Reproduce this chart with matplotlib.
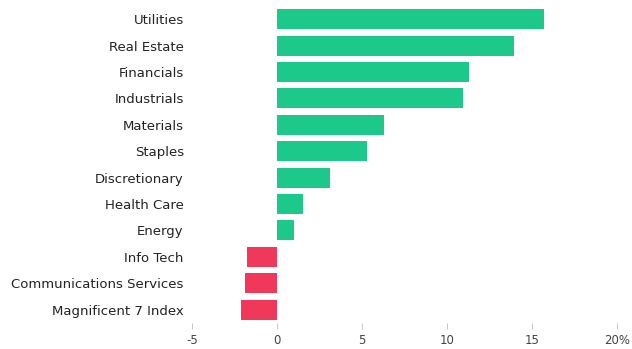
import matplotlib
matplotlib.use("Agg")
import matplotlib.pyplot as plt

plt.rcParams["font.family"] = ["DejaVu Sans"]

sectors = ["Utilities", "Real Estate", "Financials", "Industrials", "Materials",
           "Staples", "Discretionary", "Health Care", "Energy", "Info Tech",
           "Communications Services", "Magnificent 7 Index"]
returns = [15.7, 13.9, 11.3, 10.9, 6.3, 5.3, 3.1, 1.5, 1.0, -1.8, -1.9, -2.1]
xticks = [-5, 0, 5, 10, 15, 20]
xtick_labels = ["-5", "0", "5", "10", "15", "20%"]

GREEN = "#1DC98A"
RED = "#F0385A"

fig = plt.figure(figsize=(6.32, 3.49), dpi=100)
ax = fig.add_axes([0.304, 0.075, 0.673, 0.908])

colors = [GREEN if v >= 0 else RED for v in returns]
ypos = list(range(len(sectors)))
ax.barh(ypos, returns, height=0.76, color=colors)

ax.set_ylim(len(sectors) - 0.5, -0.5)
ax.set_xlim(-5, 20)
ax.set_yticks(ypos)
ax.set_yticklabels(sectors, fontsize=9.5, color="#222222")
ax.set_xticks(xticks)
ax.set_xticklabels(xtick_labels, fontsize=8.5, color="#444444")

for s in ax.spines.values():
    s.set_visible(False)
ax.tick_params(axis="y", length=0, pad=6)
ax.tick_params(axis="x", length=4, width=0.6, color="#bbbbbb", pad=4)

fig.savefig("out.png", dpi=100)
